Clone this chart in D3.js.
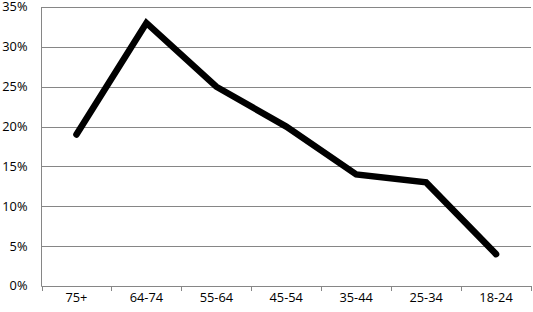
<!DOCTYPE html>
<html>
<head>
<meta charset="utf-8">
<script src="https://cdn.jsdelivr.net/npm/d3@7"></script>
<style>
body { margin: 0; background: #fff; }
text { font-family: "Open Sans", sans-serif; font-size: 12.8px; fill: #000; }
</style>
</head>
<body>
<div class="chart"></div>
<script>
var width = 533,
    height = 312;

var categories = ["75+", "64-74", "55-64", "45-54", "35-44", "25-34", "18-24"];
var values = [19, 33, 25, 20, 14, 13, 4];
var yTicks = [0, 5, 10, 15, 20, 25, 30, 35];

var plotLeft = 41.5, plotRight = 531, plotTop = 7, plotBottom = 286;

var svg = d3.select(".chart").append("svg")
    .attr("width", width)
    .attr("height", height);

var x = d3.scaleBand()
    .domain(categories)
    .range([plotLeft, plotRight]);

var y = d3.scaleLinear()
    .domain([0, 35])
    .range([plotBottom, plotTop]);

// gridlines
svg.append("g")
    .selectAll("line")
    .data(yTicks)
    .enter().append("line")
    .attr("x1", plotLeft)
    .attr("x2", plotRight)
    .attr("y1", d => Math.round(y(d)) + 0.5)
    .attr("y2", d => Math.round(y(d)) + 0.5)
    .style("stroke", "#868686")
    .style("stroke-width", 1);

// y axis line
svg.append("line")
    .attr("x1", plotLeft).attr("x2", plotLeft)
    .attr("y1", plotTop).attr("y2", plotBottom + 0.5)
    .style("stroke", "#868686");

// y labels
svg.append("g")
    .selectAll("text")
    .data(yTicks)
    .enter().append("text")
    .attr("x", 27.5)
    .attr("y", d => y(d))
    .attr("dy", "0.35em")
    .attr("text-anchor", "end")
    .text(d => d + "%");

// x ticks
var tickX = categories.map(c => x(c)).concat([plotRight]);
svg.append("g")
    .selectAll("line")
    .data(tickX)
    .enter().append("line")
    .attr("x1", d => Math.round(d) + 0.5)
    .attr("x2", d => Math.round(d) + 0.5)
    .attr("y1", plotBottom)
    .attr("y2", plotBottom + 5)
    .style("stroke", "#868686");

// x labels
svg.append("g")
    .selectAll("text")
    .data(categories)
    .enter().append("text")
    .attr("x", d => x(d) + x.bandwidth() / 2)
    .attr("y", 298)
    .attr("dy", "0.35em")
    .attr("text-anchor", "middle")
    .text(d => d);

// the line
var line = d3.line()
    .x((d, i) => x(categories[i]) + x.bandwidth() / 2)
    .y(d => y(d));

svg.append("path")
    .datum(values)
    .attr("d", line)
    .style("fill", "none")
    .style("stroke", "#000")
    .style("stroke-width", 6.5)
    .style("stroke-linejoin", "miter")
    .style("stroke-linecap", "round");
</script>
</body>
</html>
